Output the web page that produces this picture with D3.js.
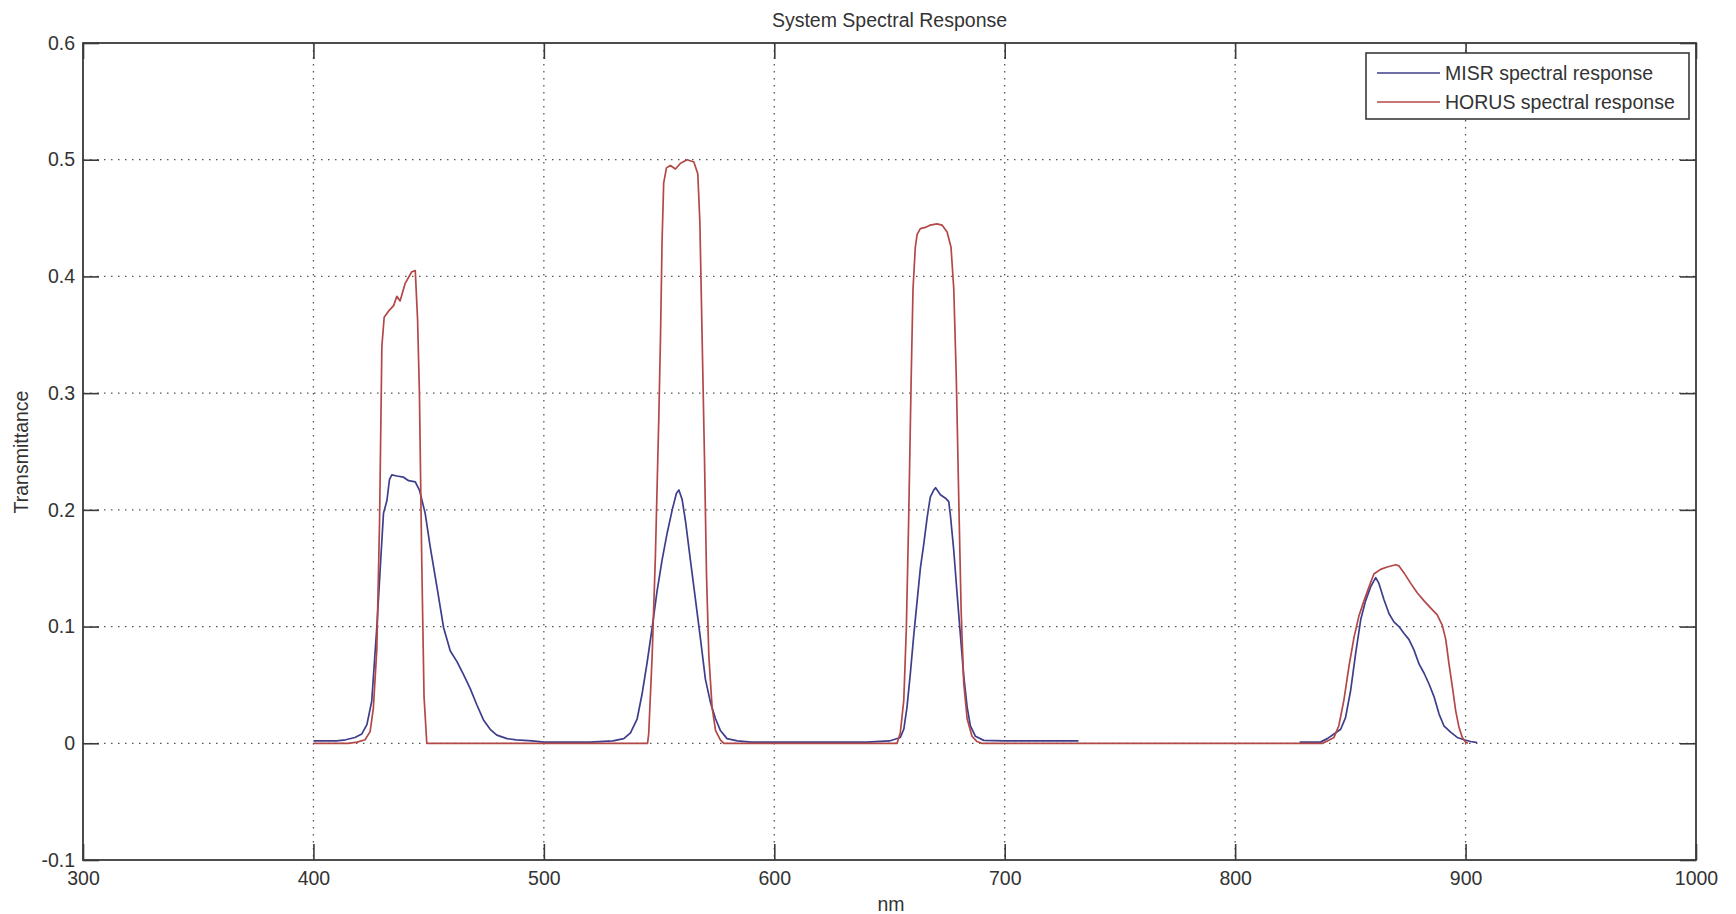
<!DOCTYPE html>
<html>
<head>
<meta charset="utf-8">
<script src="https://cdn.jsdelivr.net/npm/d3@7"></script>
<style>
  html, body { margin: 0; padding: 0; background: #ffffff; }
  svg { display: block; }
  text { font-family: "Liberation Sans", Arial, Helvetica, sans-serif; fill: #333; }
</style>
</head>
<body>
<svg id="chart" width="1736" height="914"></svg>
<script>
// ---------------- data ----------------
const chartTitle = "System Spectral Response";
const xLabel = "nm";
const yLabel = "Transmittance";
const seriesNames = ["MISR spectral response", "HORUS spectral response"];

const xTicks = [300, 400, 500, 600, 700, 800, 900, 1000];
const xTickLabels = ["300", "400", "500", "600", "700", "800", "900", "1000"];
const yTicks = [-0.1, 0, 0.1, 0.2, 0.3, 0.4, 0.5, 0.6];
const yTickLabels = ["-0.1", "0", "0.1", "0.2", "0.3", "0.4", "0.5", "0.6"];

// MISR (null = no data between bands)
const misrNm = [400, 405, 410, 414, 418, 421, 423.2, 425.3, 427.5, 429.2, 430.4, 431.9, 433, 434, 436.2, 439.1, 441.3, 444.2, 446, 448.5,
  450.7, 453.6, 456.5, 459.4, 462.3, 465.1, 468, 470.9, 473.8, 476.7, 479.6, 484, 488, 495, 500, 510, 520, 530,
  534.7, 537.6, 540.5, 542.6, 544.8, 547, 549.1, 551.3, 553.5, 555.7, 557.5, 558.6, 560, 561.5, 563.6, 565.8, 568, 570.1,
  572.3, 574.5, 576.6, 579.5, 584, 590, 600, 620, 640, 650,
  654.7, 656.2, 657.6, 659.1, 660.5, 662, 663.4, 664.9, 666.3, 667.7, 669.2, 670, 672.1, 674.3, 675.7, 676.4, 677.9, 679.3,
  680.8, 682.2, 683.7, 685.1, 687.3, 690.9, 700, 715, 732,
  780,
  828, 837, 840, 842.9, 845.8, 847.9, 850.1, 852.3, 854.5, 856.6, 858.8, 861, 862.4, 864.6, 866.8, 868.9, 871.1, 873.3,
  875.4, 877.6, 879.8, 882, 884.1, 886.3, 888.5, 890.6, 893.5, 896.4, 899.3, 902.2, 905];
const misrT = [0.002, 0.002, 0.002, 0.003, 0.005, 0.008, 0.016, 0.036, 0.099, 0.157, 0.197, 0.208, 0.226, 0.230, 0.229, 0.228, 0.225, 0.224, 0.217, 0.197,
  0.168, 0.134, 0.099, 0.079, 0.070, 0.059, 0.047, 0.033, 0.020, 0.012, 0.007, 0.004, 0.003, 0.002, 0.001, 0.001, 0.001, 0.002,
  0.004, 0.009, 0.021, 0.042, 0.069, 0.099, 0.130, 0.157, 0.180, 0.200, 0.214, 0.217, 0.209, 0.190, 0.157, 0.123, 0.089, 0.055,
  0.035, 0.021, 0.011, 0.004, 0.002, 0.001, 0.001, 0.001, 0.001, 0.002,
  0.005, 0.012, 0.031, 0.061, 0.092, 0.122, 0.150, 0.171, 0.193, 0.211, 0.217, 0.219, 0.213, 0.210, 0.207, 0.196, 0.165, 0.129,
  0.092, 0.058, 0.031, 0.015, 0.006, 0.0025, 0.002, 0.002, 0.002,
  null,
  0.001, 0.001, 0.004, 0.008, 0.012, 0.022, 0.045, 0.077, 0.106, 0.122, 0.134, 0.142, 0.137, 0.123, 0.111, 0.104, 0.100, 0.094,
  0.089, 0.080, 0.068, 0.060, 0.051, 0.040, 0.025, 0.015, 0.0095, 0.005, 0.003, 0.0015, 0.0005];

// HORUS
const horusNm = [400, 415, 419, 422.4, 424.6, 426, 427.5, 428.7, 429.7, 430.7, 432.5, 434.8, 436.2, 437.6, 439.8, 442.7, 444.2, 445.2, 446, 447, 448, 449.2,
  500, 545, 545.5, 547, 548.4, 549.9, 550.6, 551.3, 552, 553.2, 554.9, 557.1, 559.3, 562.2, 565.1, 566.8, 567.7, 568.7, 569.7, 570.6,
  571.6, 573, 574.5, 576.6, 578.1, 600, 653.3,
  654.7, 656.2, 657.3, 658.3, 659.4, 660.2, 661.2, 662, 663.4, 665.6, 667.7, 670.6, 672.8, 675, 676.7, 677.9, 679, 680.1, 681.1, 682.2,
  683.7, 685.8, 688, 690, 800, 838,
  840, 842.9, 845, 847.2, 849.4, 851.6, 853.7, 855.9, 858.1, 860.2, 863.1, 866, 869.7, 871.1, 873.3, 876.2, 879, 882, 884.8, 887.7,
  889.9, 891.4, 892.8, 894.3, 895.7, 897.1, 898.6, 900, 901];
const horusT = [0, 0, 0.001, 0.003, 0.010, 0.03, 0.08, 0.19, 0.34, 0.365, 0.37, 0.375, 0.383, 0.379, 0.394, 0.404, 0.405, 0.363, 0.30, 0.157, 0.04, 0,
  0, 0, 0.008, 0.075, 0.16, 0.28, 0.346, 0.43, 0.48, 0.493, 0.495, 0.492, 0.497, 0.500, 0.498, 0.488, 0.447, 0.346, 0.245, 0.143,
  0.075, 0.031, 0.011, 0.003, 0, 0, 0,
  0.009, 0.037, 0.098, 0.19, 0.312, 0.389, 0.425, 0.436, 0.441, 0.442, 0.444, 0.445, 0.444, 0.438, 0.425, 0.389, 0.312, 0.205, 0.113, 0.052,
  0.021, 0.006, 0.0015, 0, 0, 0,
  0.002, 0.005, 0.015, 0.037, 0.066, 0.091, 0.109, 0.122, 0.134, 0.145, 0.149, 0.151, 0.153, 0.152, 0.146, 0.137, 0.129, 0.122, 0.116, 0.110,
  0.101, 0.089, 0.068, 0.048, 0.028, 0.014, 0.005, 0.001, 0];

// ---------------- layout ----------------
const W = 1736, H = 914;
const plot = { left: 83, right: 1696, top: 43, bottom: 860 };
const colors = { misr: "#3e3e8c", horus: "#b34848", axis: "#3a3a3a", grid: "#555555" };
const fontSize = 19.5;
const tickLen = 16;

const svg = d3.select("#chart");
svg.append("rect").attr("width", W).attr("height", H).attr("fill", "#fff");

const x = d3.scaleLinear().domain([300, 1000]).range([plot.left, plot.right]);
const y = d3.scaleLinear().domain([-0.1, 0.6]).range([plot.bottom, plot.top]);

// grid
const grid = svg.append("g").attr("class", "grid");
grid.selectAll("line.gx").data(xTicks.slice(1, -1)).join("line")
  .attr("x1", d => x(d)).attr("x2", d => x(d))
  .attr("y1", plot.top).attr("y2", plot.bottom)
  .attr("stroke", colors.grid).attr("stroke-width", 1.3).attr("stroke-dasharray", "1.5,5.5");
grid.selectAll("line.gy").data(yTicks.slice(1, -1)).join("line")
  .attr("x1", plot.left).attr("x2", plot.right)
  .attr("y1", d => y(d)).attr("y2", d => y(d))
  .attr("stroke", colors.grid).attr("stroke-width", 1.3).attr("stroke-dasharray", "1.5,5.5");

// series
const misrData = misrNm.map((n, i) => ({ x: n, y: misrT[i] }));
const horusData = horusNm.map((n, i) => ({ x: n, y: horusT[i] }));
const line = d3.line().defined(d => d.y !== null).x(d => x(d.x)).y(d => y(d.y));

svg.append("path").datum(misrData).attr("d", line)
  .attr("fill", "none").attr("stroke", colors.misr).attr("stroke-width", 1.7).attr("stroke-linejoin", "round");
svg.append("path").datum(horusData).attr("d", line)
  .attr("fill", "none").attr("stroke", colors.horus).attr("stroke-width", 1.7).attr("stroke-linejoin", "round");

// axes (inward ticks on all four sides)
function styleAxis(g) {
  g.select(".domain").remove();
  g.selectAll(".tick line").attr("stroke", colors.axis).attr("stroke-width", 1.6);
  g.selectAll(".tick text").attr("font-size", fontSize).attr("fill", "#333")
    .attr("font-family", '"Liberation Sans", Arial, sans-serif');
}
svg.append("g").attr("transform", `translate(0,${plot.bottom})`)
  .call(d3.axisBottom(x).tickValues(xTicks).tickFormat((d, i) => xTickLabels[i]).tickSizeInner(-tickLen).tickSizeOuter(0).tickPadding(11))
  .call(styleAxis);
svg.append("g").attr("transform", `translate(0,${plot.top})`)
  .call(d3.axisTop(x).tickValues(xTicks).tickFormat("").tickSizeInner(-tickLen).tickSizeOuter(0))
  .call(styleAxis);
svg.append("g").attr("transform", `translate(${plot.left},0)`)
  .call(d3.axisLeft(y).tickValues(yTicks).tickFormat((d, i) => yTickLabels[i]).tickSizeInner(-tickLen).tickSizeOuter(0).tickPadding(8))
  .call(styleAxis);
svg.append("g").attr("transform", `translate(${plot.right},0)`)
  .call(d3.axisRight(y).tickValues(yTicks).tickFormat("").tickSizeInner(-tickLen).tickSizeOuter(0))
  .call(styleAxis);

// box
svg.append("rect")
  .attr("x", plot.left).attr("y", plot.top)
  .attr("width", plot.right - plot.left).attr("height", plot.bottom - plot.top)
  .attr("fill", "none").attr("stroke", colors.axis).attr("stroke-width", 1.8);

// title & labels
svg.append("text").attr("x", (plot.left + plot.right) / 2).attr("y", 27)
  .attr("text-anchor", "middle").attr("font-size", fontSize).text(chartTitle);
svg.append("text").attr("x", 891).attr("y", 911)
  .attr("text-anchor", "middle").attr("font-size", fontSize).text(xLabel);
svg.append("text").attr("transform", `translate(28,452) rotate(-90)`)
  .attr("text-anchor", "middle").attr("font-size", fontSize).text(yLabel);

// legend
const leg = svg.append("g");
leg.append("rect").attr("x", 1366).attr("y", 53).attr("width", 323).attr("height", 66)
  .attr("fill", "#fff").attr("stroke", colors.axis).attr("stroke-width", 1.6);
const legColors = [colors.misr, colors.horus];
seriesNames.forEach((name, i) => {
  const cy = 73 + i * 29;
  leg.append("line").attr("x1", 1377).attr("x2", 1440).attr("y1", cy).attr("y2", cy)
    .attr("stroke", legColors[i]).attr("stroke-width", 1.7);
  leg.append("text").attr("x", 1445).attr("y", cy + 7).attr("font-size", fontSize).text(name);
});
</script>
</body>
</html>
